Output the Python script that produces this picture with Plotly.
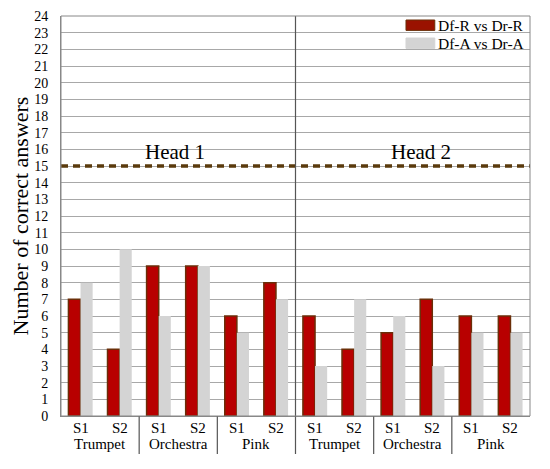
import plotly.graph_objects as go

heads = ["Head 1", "Head 2"]
groups = ["Trumpet", "Orchestra", "Pink"]
subs = ["S1", "S2"]
series_names = ["Df-R vs Dr-R", "Df-A vs Dr-A"]
red_vals = [7, 4, 9, 9, 6, 8, 6, 4, 5, 7, 6, 6]
gray_vals = [8, 10, 6, 9, 5, 7, 3, 7, 6, 3, 5, 5]
threshold = 15
y_ticks = list(range(0, 25))

x = list(range(len(red_vals)))
FONT = "Times New Roman, Liberation Serif, serif"
RED = "#B80000"
RED_LINE = "#6A2E08"
GRAY = "#D4D4D4"

fig = go.Figure()
fig.add_trace(go.Bar(x=x, y=red_vals, name=series_names[0], showlegend=False,
                     marker=dict(color=RED, line=dict(color=RED_LINE, width=1.5))))
fig.add_trace(go.Bar(x=x, y=gray_vals, name=series_names[1], showlegend=False,
                     marker=dict(color=GRAY, line=dict(width=0))))

shapes = []
shapes.append(dict(type="line", xref="paper", yref="y", x0=0, x1=1, y0=threshold, y1=threshold,
                   line=dict(color="#5A3A0C", width=3.5, dash="7px,5px"), layer="above"))
shapes.append(dict(type="line", xref="x", yref="paper", x0=5.5, x1=5.5, y0=-0.095, y1=1,
                   line=dict(color="#555555", width=1.2)))
for xs in [1.5, 3.5, 7.5, 9.5]:
    shapes.append(dict(type="line", xref="x", yref="paper", x0=xs, x1=xs, y0=-0.095, y1=0,
                       line=dict(color="#555555", width=1.2)))
shapes.append(dict(type="rect", xref="paper", yref="paper", x0=0, x1=1, y0=0, y1=1,
                   line=dict(color="#888888", width=1)))

annotations = []
for h, hx in zip(heads, [2.42, 8.7]):
    annotations.append(dict(x=hx, y=15.85, xref="x", yref="y", text=h, showarrow=False,
                            font=dict(family=FONT, size=21, color="black"), yanchor="middle"))
for i in x:
    annotations.append(dict(x=i, y=-0.029, xref="x", yref="paper", text=subs[i % 2],
                            showarrow=False, yanchor="middle",
                            font=dict(family=FONT, size=15, color="black")))
for i in range(len(red_vals) // 2):
    annotations.append(dict(x=2 * i + 0.5, y=-0.071, xref="x", yref="paper",
                            text=groups[i % 3], showarrow=False, yanchor="middle",
                            font=dict(family=FONT, size=15, color="black")))

# manual legend (wide swatches as in the reference)
leg_rows = [(series_names[0], "#9A1200", RED_LINE, 0.977), (series_names[1], GRAY, GRAY, 0.932)]
for name, fc, lc, yc in leg_rows:
    shapes.append(dict(type="rect", xref="paper", yref="paper",
                       x0=0.7356, x1=0.797, y0=yc - 0.013, y1=yc + 0.013,
                       fillcolor=fc, line=dict(color=lc, width=1)))
    annotations.append(dict(x=0.8, y=yc, xref="paper", yref="paper", text=name,
                            showarrow=False, xanchor="left", yanchor="middle",
                            font=dict(family=FONT, size=15.5, color="black")))

# page body has an 8px margin, so the figure is 8px smaller than the window
fig.update_layout(
    width=542, height=461,
    margin=dict(l=53, r=20, t=8, b=53),
    paper_bgcolor="white", plot_bgcolor="white",
    barmode="group", bargap=0.38, bargroupgap=0,
    font=dict(family=FONT, color="black"),
    shapes=shapes, annotations=annotations, showlegend=False,
    xaxis=dict(tickmode="array", tickvals=x, ticktext=[""] * len(x), range=[-0.5, 11.5],
               showgrid=False, ticks="", showline=True, linecolor="#888888",
               zeroline=False, automargin=False),
    yaxis=dict(range=[0, 24], tickvals=y_ticks, showgrid=True, gridcolor="#A8A8A8",
               gridwidth=1, tickfont=dict(family=FONT, size=14), ticks="",
               ticklabelstandoff=9,
               showline=True, linecolor="#888888", zeroline=False, automargin=False,
               title=dict(text="Number of correct answers", font=dict(family=FONT, size=22),
                          standoff=0)),
)

fig.write_html("out.html")
